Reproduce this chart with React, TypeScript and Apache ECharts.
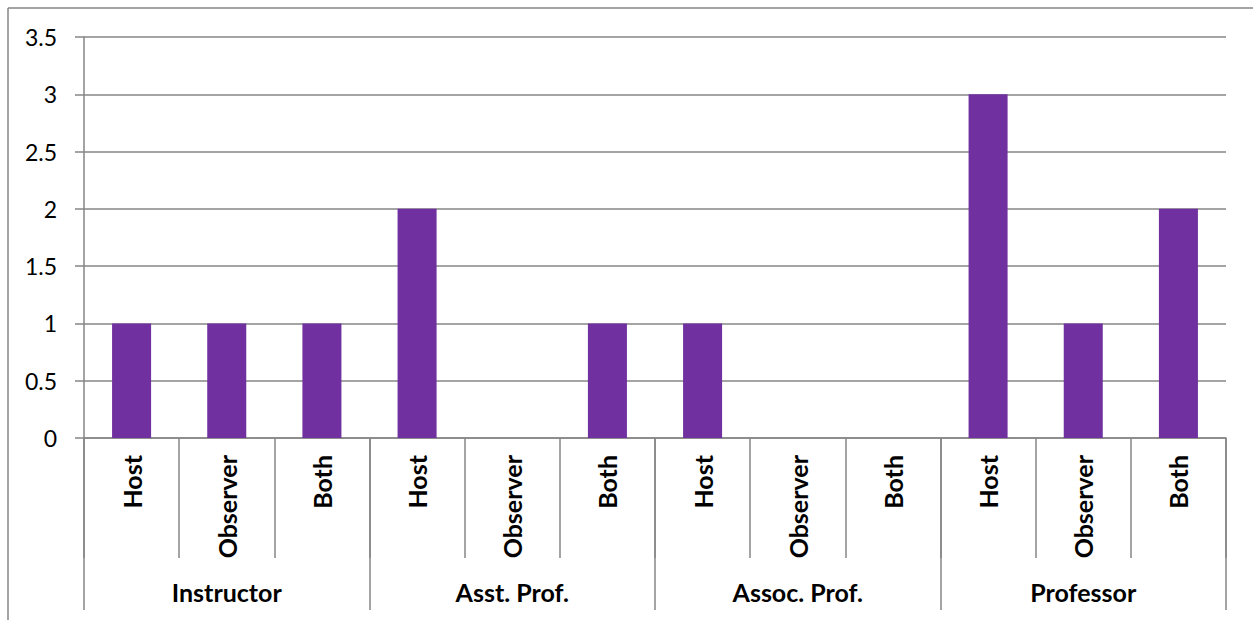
import React, { useEffect, useRef } from "react";
import * as echarts from "echarts";

const groups = ["Instructor", "Asst. Prof.", "Assoc. Prof.", "Professor"];
const roles = ["Host", "Observer", "Both"];
const values = [1, 1, 1, 2, 0, 1, 1, 0, 0, 3, 1, 2];
const yTicks = { min: 0, max: 3.5, interval: 0.5 };

const subCategories = groups.flatMap(() => roles);

export default function App() {
  const ref = useRef<HTMLDivElement>(null);
  useEffect(() => {
    if (!ref.current) return;
    const chart = echarts.init(ref.current, null, { renderer: "svg" });
    const gray = "#868686";
    const font = "Lato, 'Open Sans', sans-serif";
    const lw = 1.5;
    chart.setOption({
      animation: false,
      graphic: [
        {
          type: "line",
          shape: { x1: 8, y1: 8, x2: 1253, y2: 8 },
          style: { stroke: gray, lineWidth: lw },
        },
        {
          type: "line",
          shape: { x1: 8, y1: 8, x2: 8, y2: 620 },
          style: { stroke: gray, lineWidth: lw },
        },
      ],
      grid: { left: 84, right: 27, top: 37, bottom: 182, containLabel: false },
      xAxis: [
        {
          type: "category",
          data: subCategories,
          position: "bottom",
          axisLine: { show: true, lineStyle: { color: gray, width: lw } },
          axisTick: { show: true, interval: 0, length: 120, lineStyle: { color: gray, width: lw } },
          axisLabel: {
            interval: 0,
            rotate: 90,
            margin: 17,
            fontFamily: font,
            fontSize: 25,
            fontWeight: "bold",
            color: "#000",
          },
        },
        {
          type: "category",
          data: groups,
          position: "bottom",
          axisLine: { show: false },
          axisTick: { show: true, interval: 0, length: 172, lineStyle: { color: gray, width: lw } },
          axisLabel: {
            interval: 0,
            margin: 141,
            fontFamily: font,
            fontSize: 25,
            fontWeight: "bold",
            color: "#000",
          },
        },
      ],
      yAxis: {
        type: "value",
        min: yTicks.min,
        max: yTicks.max,
        interval: yTicks.interval,
        axisLine: { show: true, lineStyle: { color: gray, width: lw } },
        axisTick: { show: true, length: 9, lineStyle: { color: gray, width: lw } },
        splitLine: { show: true, lineStyle: { color: gray, width: lw } },
        axisLabel: {
          margin: 27,
          fontFamily: font,
          fontSize: 23,
          color: "#000",
        },
      },
      series: [
        {
          type: "bar",
          xAxisIndex: 0,
          data: values,
          barWidth: "41%",
          itemStyle: { color: "#7030A0" },
        },
      ],
    });
    return () => chart.dispose();
  }, []);
  return (
    <div
      ref={ref}
      style={{ position: "absolute", left: 0, top: 0, width: 1253, height: 620, background: "#fff" }}
    />
  );
}
